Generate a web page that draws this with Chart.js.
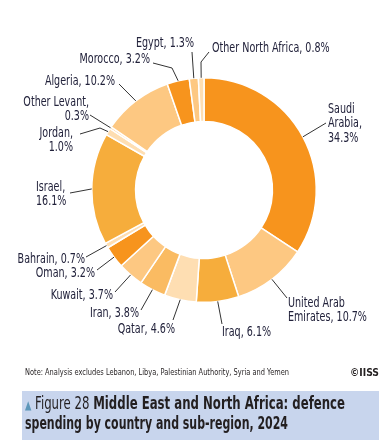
<!DOCTYPE html>
<html>
<head>
<meta charset="utf-8">
<script src="https://cdn.jsdelivr.net/npm/chart.js@4"></script>
<style>
  body { margin: 0; background: #fff; width: 388px; height: 445px; overflow: hidden; position: relative; font-family: "DejaVu Sans Condensed", "DejaVu Sans", sans-serif; }
  #chart { position: absolute; left: 0; top: 0; }
  .fit { position: absolute; white-space: nowrap; transform-origin: 0 50%; color: #231f20; }
  .note { left: 25px; top: 367px; font-size: 9px; }
  .copy { left: 350px; top: 366px; font-size: 10.5px; font-weight: bold; }
  .caption { position: absolute; left: 22px; top: 391px; width: 357px; height: 49px; background: #c8d5ed; }
  .caption .fit { left: 3px; font-size: 17px; }
  .tri { color: #5d97b9; font-size: 12px; }
</style>
</head>
<body>
<canvas id="chart" width="388" height="445"></canvas>
<div class="fit note" data-w="264">Note: Analysis excludes Lebanon, Libya, Palestinian Authority, Syria and Yemen</div>
<div class="fit copy" data-w="29">©IISS</div>
<div class="caption">
  <div class="fit" style="top:2px" data-w="320"><span class="tri">▲</span> Figure 28 <b>Middle East and North Africa: defence</b></div>
  <div class="fit" style="top:22px" data-w="263"><b>spending by country and sub-region, 2024</b></div>
</div>
<script>
var countries = ['Saudi Arabia', 'United Arab Emirates', 'Iraq', 'Qatar', 'Iran', 'Kuwait', 'Oman', 'Bahrain',
                 'Israel', 'Jordan', 'Other Levant', 'Algeria', 'Morocco', 'Egypt', 'Other North Africa'];
var shares = [34.3, 10.7, 6.1, 4.6, 3.8, 3.7, 3.2, 0.7, 16.1, 1.0, 0.3, 10.2, 3.2, 1.3, 0.8];
var labelLines = [
    ['Saudi', 'Arabia,', '34.3%'],
    ['United Arab', 'Emirates, 10.7%'],
    ['Iraq, 6.1%'],
    ['Qatar, 4.6%'],
    ['Iran, 3.8%'],
    ['Kuwait, 3.7%'],
    ['Oman, 3.2%'],
    ['Bahrain, 0.7%'],
    ['Israel,', '16.1%'],
    ['Jordan,', '1.0%'],
    ['Other Levant,', '0.3%'],
    ['Algeria, 10.2%'],
    ['Morocco, 3.2%'],
    ['Egypt, 1.3%'],
    ['Other North Africa, 0.8%']
];

var dark = '#f7941d', mid = '#f6ad3c', midLight = '#fabb62', light = '#fdc882', pale = '#fedeb2';
var colours = [dark, light, mid, pale, midLight, light, dark, pale, mid, pale, light, light, dark, light, pale];

// leader line bends and text anchors, relative to the doughnut centre
var layout = [
    { pts: [[122, -67]], text: [124, -81], align: 'left' },
    { pts: [[83, 108]], text: [84, 113], align: 'left' },
    { pts: [[18, 134]], text: [18, 142], align: 'left' },
    { pts: [[-31, 130]], text: [-29, 139], align: 'right' },
    { pts: [[-63, 120]], text: [-65, 123], align: 'right' },
    { pts: [[-89, 102]], text: [-91, 105], align: 'right' },
    { pts: [[-107, 80]], text: [-109, 83], align: 'right' },
    { pts: [[-118, 67]], text: [-119, 69], align: 'right' },
    { pts: [[-134, 3]], text: [-168, -3], align: 'left' },
    { pts: [[-104, -62], [-124, -56]], text: [-131, -57], align: 'right' },
    { pts: [[-114, -75]], text: [-115, -88], align: 'right' },
    { pts: [[-85, -106]], text: [-89, -109], align: 'right' },
    { pts: [[-32, -122], [-51, -127]], text: [-54, -131], align: 'right' },
    { pts: [[-12, -138]], text: [-10, -147], align: 'right' },
    { pts: [[-3, -128], [5, -138]], text: [8, -142], align: 'left' }
];

// squeeze the text horizontally to mimic the condensed face of the original
document.querySelectorAll('.fit').forEach(function(el) {
    var w = el.getBoundingClientRect().width;
    el.style.transform = 'scaleX(' + (el.dataset.w / w) + ')';
});

var labelPlugin = {
    id: 'leaderLabels',
    afterDraw: function(chart) {
        var ctx = chart.ctx;
        var arcs = chart.getDatasetMeta(0).data;
        ctx.save();
        ctx.font = '14px "DejaVu Sans Condensed", "DejaVu Sans", sans-serif';
        ctx.textBaseline = 'middle';
        ctx.lineWidth = 1;
        ctx.strokeStyle = '#333';
        ctx.fillStyle = '#22223b';
        arcs.forEach(function(arc, i) {
            var p = arc.getProps(['x', 'y', 'startAngle', 'endAngle', 'outerRadius'], true);
            var a = (p.startAngle + p.endAngle) / 2;
            var L = layout[i];
            ctx.beginPath();
            ctx.moveTo(p.x + Math.cos(a) * p.outerRadius, p.y + Math.sin(a) * p.outerRadius);
            L.pts.forEach(function(q) { ctx.lineTo(p.x + q[0], p.y + q[1]); });
            ctx.stroke();
            ctx.textAlign = L.align;
            labelLines[i].forEach(function(line, k) {
                var w = ctx.measureText(line).width * 0.76;
                ctx.fillText(line, p.x + L.text[0], p.y + L.text[1] + k * 14.5, w);
            });
        });
        ctx.restore();
    }
};

new Chart(document.getElementById('chart').getContext('2d'), {
    type: 'doughnut',
    data: {
        labels: countries,
        datasets: [{
            data: shares,
            backgroundColor: colours,
            borderColor: '#fff',
            borderWidth: 1.5
        }]
    },
    options: {
        responsive: false,
        animation: false,
        devicePixelRatio: 1,
        cutout: '61%',
        layout: { padding: { left: 91, right: 71, top: 77, bottom: 142 } },
        plugins: {
            legend: { display: false },
            tooltip: { enabled: false }
        }
    },
    plugins: [labelPlugin]
});
</script>
</body>
</html>
